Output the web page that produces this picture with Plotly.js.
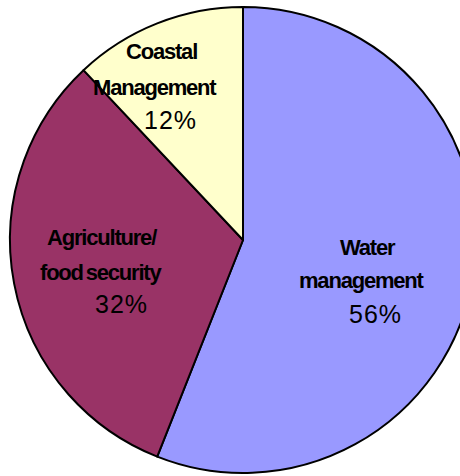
<!DOCTYPE html>
<html>
<head>
<meta charset="utf-8">
<script src="https://cdn.plot.ly/plotly-3.0.1.min.js"></script>
<style>
html, body { margin: 0; padding: 0; overflow: hidden; background: #fff; }
#chart { width: 476px; height: 476px; }
.annotation-text { letter-spacing: 1px; }
.annotation-text tspan[style*="bold"] { letter-spacing: -1.2px; word-spacing: -2px; }
</style>
</head>
<body>
<div id="chart"></div>
<script>
// Data
const categories = ["Water management", "Agriculture/ food security", "Coastal Management"];
const labelLines = [["Water", "management"], ["Agriculture/", "food security"], ["Coastal", "Management"]];
const values = [56, 32, 12];
const colors = ["#9999FF", "#993366", "#FFFFCC"];

// Label anchor positions in page pixels (layout only)
const labelPos = [
  [[368, 247], [362, 280], [375, 314]],
  [[102, 237], [101, 272], [121, 304]],
  [[161, 51], [155, 87], [170, 120]]
];

const L = 10, T = 7, S = 466;
const px = x => (x - L) / S;
const py = y => (T + S - y) / S;

const annotations = [];
categories.forEach((c, i) => {
  labelLines[i].forEach((line, j) => {
    const p = labelPos[i][j];
    annotations.push({
      xref: "paper", yref: "paper", x: px(p[0]), y: py(p[1]),
      xanchor: "center", yanchor: "middle", showarrow: false,
      text: "<b>" + line + "</b>",
      font: { family: "Liberation Sans, Arial, sans-serif", size: 22, color: "#000" }
    });
  });
  const p = labelPos[i][2];
  annotations.push({
    xref: "paper", yref: "paper", x: px(p[0]), y: py(p[1]),
    xanchor: "center", yanchor: "middle", showarrow: false,
    text: values[i] + "%",
    font: { family: "Liberation Sans, Arial, sans-serif", size: 25, color: "#000" }
  });
});

Plotly.newPlot("chart", [{
  type: "pie",
  labels: categories,
  values: values,
  sort: false,
  direction: "clockwise",
  rotation: 0,
  textinfo: "none",
  hoverinfo: "label+percent",
  marker: { colors: colors, line: { color: "#000", width: 2 } },
  showlegend: false
}], {
  width: 476, height: 476,
  margin: { l: L, r: 0, t: T, b: 476 - T - S, pad: 0 },
  paper_bgcolor: "#fff",
  showlegend: false,
  annotations: annotations
}, { displayModeBar: false, staticPlot: true });
</script>
</body>
</html>
